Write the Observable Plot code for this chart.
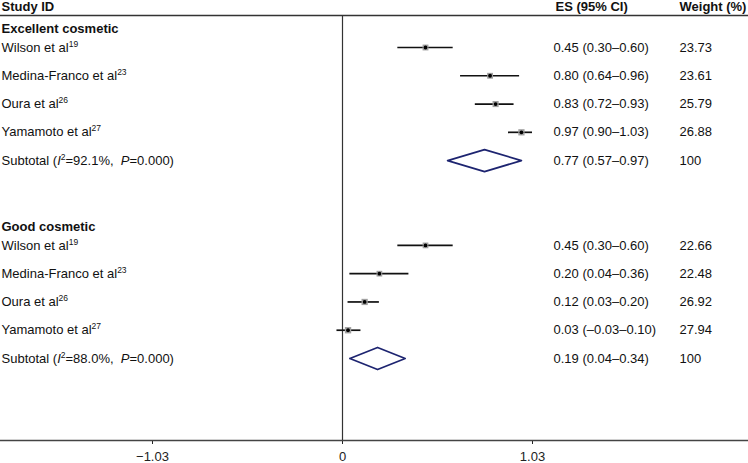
<!DOCTYPE html>
<html>
<head>
<meta charset="utf-8">
<script src="https://cdn.jsdelivr.net/npm/d3@7"></script>
<script src="https://cdn.jsdelivr.net/npm/@observablehq/plot@0.6"></script>
<style>
  html, body { margin: 0; padding: 0; background: #fff; }
  #chart svg text { white-space: pre; }
</style>
</head>
<body>
<div id="chart"></div>
<script>
// ---- data ----
const groups = ["Excellent cosmetic", "Good cosmetic"];
const studies = ["Wilson et al^19^", "Medina-Franco et al^23^", "Oura et al^26^", "Yamamoto et al^27^"];

const excES = [0.45, 0.80, 0.83, 0.97];
const excLo = [0.30, 0.64, 0.72, 0.90];
const excHi = [0.60, 0.96, 0.93, 1.03];
const excW  = [23.73, 23.61, 25.79, 26.88];

const goodES = [0.45, 0.20, 0.12, 0.03];
const goodLo = [0.30, 0.04, 0.03, -0.03];
const goodHi = [0.60, 0.36, 0.20, 0.10];
const goodW  = [22.66, 22.48, 26.92, 27.94];

const subES = [0.77, 0.19];
const subLo = [0.57, 0.04];
const subHi = [0.97, 0.34];
const subI2 = ["92.1%", "88.0%"];
const subP  = ["0.000", "0.000"];
const subW  = ["100", "100"];

const xTicks = [-1.03, 0, 1.03];
const headers = ["Study ID", "ES (95% CI)", "Weight (%)"];

// ---- table building ----
const groupStart = [1, 8];
const fmt = v => (v < 0 ? "\u2013" : "") + Math.abs(v).toFixed(2);
const esText = (e, l, h) => `${fmt(e)} (${fmt(l)}\u2013${fmt(h)})`;

const series = [
  {es: excES, lo: excLo, hi: excHi, w: excW},
  {es: goodES, lo: goodLo, hi: goodHi, w: goodW}
];

const studyRows = [];
const subRows = [];
const headRows = [];
series.forEach((s, g) => {
  headRows.push({label: groups[g], row: groupStart[g] - 0.66});
  studies.forEach((name, i) => {
    studyRows.push({
      group: groups[g], label: name, row: groupStart[g] + i,
      es: s.es[i], lo: s.lo[i], hi: s.hi[i], w: s.w[i],
      esText: esText(s.es[i], s.lo[i], s.hi[i]), wText: s.w[i].toFixed(2)
    });
  });
  subRows.push({
    group: groups[g], row: groupStart[g] + 4,
    label: `Subtotal (_I_^2^=${subI2[g]},\u00a0 _P_=${subP[g]})`,
    es: subES[g], lo: subLo[g], hi: subHi[g],
    esText: esText(subES[g], subLo[g], subHi[g]), wText: subW[g]
  });
});
const textRows = studyRows.concat(subRows);

const dh = 0.39;
const diamond = subRows.flatMap(d => [
  {group: d.group, x: d.lo, y: d.row},
  {group: d.group, x: d.es, y: d.row - dh},
  {group: d.group, x: d.hi, y: d.row},
  {group: d.group, x: d.es, y: d.row + dh},
  {group: d.group, x: d.lo, y: d.row}
]);

const ES_DX = 553, W_DX = 679;

const chart = Plot.plot({
  width: 748,
  height: 463,
  marginLeft: 0,
  marginRight: 0,
  marginTop: 15,
  marginBottom: 23,
  style: {fontFamily: "'Liberation Sans', Arial, Helvetica, sans-serif", fontSize: "13px", color: "#222", background: "#fff"},
  x: {domain: [0, 1.03], range: [342, 532], ticks: xTicks, tickSize: 4, tickPadding: 7,
      tickFormat: d => d === 0 ? "0" : (d < 0 ? "\u2212" : "") + Math.abs(d).toFixed(2), label: null},
  y: {domain: [1, 12], range: [47, 358], axis: null},
  r: {domain: [0, 28], range: [0, 3.6]},
  marks: [
    Plot.frame({anchor: "top", stroke: "#333", strokeWidth: 1.5}),
    Plot.frame({anchor: "bottom", stroke: "#444", strokeWidth: 1.5}),
    Plot.ruleX([0], {stroke: "#333", strokeWidth: 1.2}),
    Plot.ruleY(studyRows, {x1: "lo", x2: "hi", y: "row", stroke: "#111", strokeWidth: 1.7}),
    Plot.dot(studyRows, {x: "es", y: "row", r: "w", symbol: "square", fill: "#a0a0a0"}),
    Plot.dot(studyRows, {x: "es", y: "row", r: 1.9, fill: "#000"}),
    Plot.line(diamond, {x: "x", y: "y", z: "group", stroke: "#1d2470", strokeWidth: 1.7}),
    // column headers
    Plot.text([headers[0]], {frameAnchor: "top-left", lineAnchor: "middle", dy: -9, dx: 1, text: d => d, textAnchor: "start", fontWeight: "bold", fill: "#111"}),
    Plot.text([headers[1]], {frameAnchor: "top-left", lineAnchor: "middle", dy: -9, dx: 555, text: d => d, textAnchor: "start", fontWeight: "bold", fill: "#111"}),
    Plot.text([headers[2]], {frameAnchor: "top-left", lineAnchor: "middle", dy: -9, dx: W_DX, text: d => d, textAnchor: "start", fontWeight: "bold", fill: "#111"}),
    // group headings
    Plot.text(headRows, {y: "row", text: "label", frameAnchor: "left", dx: 1, textAnchor: "start", fontWeight: "bold", fill: "#111"}),
    // labels & values
    Plot.text(textRows, {y: "row", text: "label", frameAnchor: "left", dx: 1, textAnchor: "start", fill: "#111"}),
    Plot.text(textRows, {y: "row", text: "esText", frameAnchor: "left", dx: ES_DX, textAnchor: "start", fill: "#111"}),
    Plot.text(textRows, {y: "row", text: "wText", frameAnchor: "left", dx: W_DX, textAnchor: "start", fill: "#111"})
  ]
});

// rich text: ^sup^ and _italic_
const NS = "http://www.w3.org/2000/svg";
chart.querySelectorAll("text").forEach(el => {
  const s = el.textContent;
  if (!/[\^_]/.test(s)) return;
  el.textContent = "";
  const re = /\^([^\^]*)\^|_([^_]*)_|([^\^_]+)/g;
  let m, cur = 0;
  while ((m = re.exec(s))) {
    const t = document.createElementNS(NS, "tspan");
    let target = 0;
    if (m[1] !== undefined) {
      t.textContent = m[1];
      t.setAttribute("font-size", "8.5");
      target = -5;
    } else if (m[2] !== undefined) {
      t.textContent = m[2];
      t.setAttribute("font-style", "italic");
    } else {
      t.textContent = m[3];
    }
    if (target !== cur) { t.setAttribute("dy", target - cur); cur = target; }
    el.appendChild(t);
  }
});

document.getElementById("chart").appendChild(chart);
</script>
</body>
</html>
